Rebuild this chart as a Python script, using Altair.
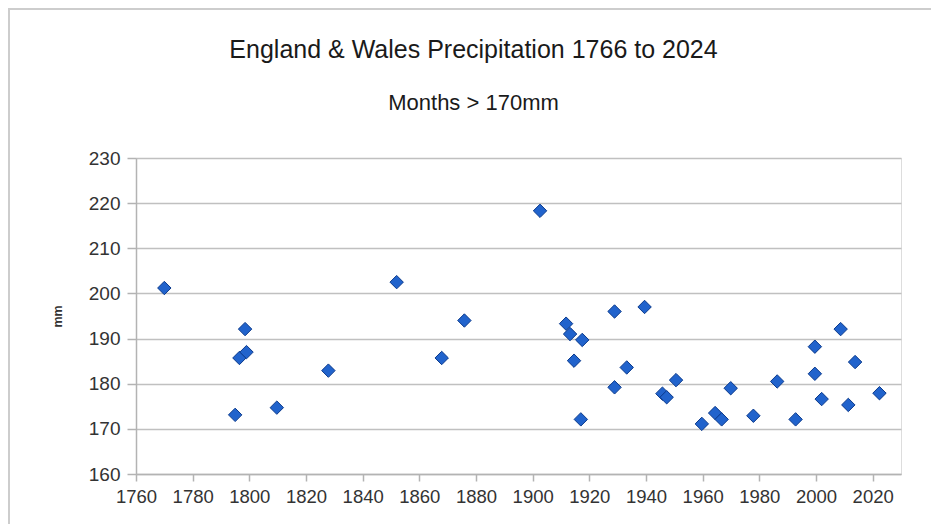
import altair as alt
import pandas as pd

years = [1770, 1795, 1796.5, 1798.5, 1799, 1809.7, 1827.9, 1852, 1867.9, 1875.9,
         1902.6, 1911.8, 1913.2, 1914.6, 1917, 1917.5, 1928.9, 1928.9, 1933.2, 1939.5,
         1945.8, 1947.3, 1950.6, 1959.7, 1964.4, 1966.7, 1969.9, 1977.9, 1986.3, 1992.8,
         1999.6, 1999.6, 2002, 2008.7, 2011.4, 2013.8, 2022.4]
values = [201.2, 173.1, 185.7, 192.1, 187.0, 174.7, 182.9, 202.5, 185.7, 194.0,
          218.3, 193.3, 191.0, 185.1, 172.1, 189.7, 196.0, 179.2, 183.6, 197.0,
          177.8, 177.0, 180.8, 171.1, 173.5, 172.1, 179.0, 172.9, 180.5, 172.1,
          188.2, 182.2, 176.6, 192.1, 175.3, 184.8, 177.9]
x_ticks = list(range(1760, 2021, 20))
y_ticks = list(range(160, 231, 10))

df = pd.DataFrame({"year": years, "mm": values})

W, H = 765, 316
PAD_L, PAD_T = 128, 150

points = alt.Chart(df).mark_point(
    shape="diamond", filled=True, size=180, color="#2163cc",
    stroke="#0b3a8c", strokeWidth=1, opacity=1
).encode(
    x=alt.X("year:Q", scale=alt.Scale(domain=[1760, 2030], nice=False, zero=False),
            axis=alt.Axis(values=x_ticks, format="d", title=None, grid=False,
                          labelFontSize=18.5, labelColor="#333333", labelPadding=6,
                          labelFlush=False, labelOverlap=False,
                          tickSize=7, tickColor="#b3b3b3", tickWidth=1.5,
                          domainColor="#b3b3b3", domainWidth=1.5,
                          labelFont="Liberation Sans")),
    y=alt.Y("mm:Q", scale=alt.Scale(domain=[160, 230], nice=False, zero=False),
            axis=alt.Axis(values=y_ticks, title="mm", titleFontSize=12.5,
                          titleFontWeight="bold", titleColor="#333333",
                          titlePadding=24, titleFont="Liberation Sans",
                          labelFontSize=19, labelColor="#333333", labelPadding=7,
                          labelFlush=False, labelOverlap=False,
                          tickSize=9, tickColor="#b3b3b3", tickWidth=1.5,
                          gridColor="#c0c0c0", gridWidth=1.5,
                          domainColor="#b3b3b3", domainWidth=1.5,
                          labelFont="Liberation Sans")),
)

frame_top = alt.Chart(df).mark_rule(color="#cccccc", strokeWidth=1.5).encode(
    x=alt.value(-PAD_L), x2=alt.value(W + 30), y=alt.value(-PAD_T + 1))
frame_left = alt.Chart(df).mark_rule(color="#cccccc", strokeWidth=1.5).encode(
    x=alt.value(-PAD_L + 1), y=alt.value(-PAD_T), y2=alt.value(H + 50))

chart = alt.layer(frame_top, frame_left, points).properties(
    width=W, height=H,
    autosize=alt.AutoSizeParams(type="none"),
    padding={"left": PAD_L, "top": PAD_T, "right": 30, "bottom": 50},
    title=alt.TitleParams(
        text="England & Wales Precipitation 1766 to 2024",
        subtitle="Months > 170mm",
        font="Liberation Sans", fontSize=25, fontWeight="normal", color="#1a1a1a",
        subtitleFont="Liberation Sans", subtitleFontSize=22, subtitleColor="#1a1a1a",
        subtitlePadding=30.5, anchor="middle", frame="group", dx=-45, offset=-107,
    ),
).configure_view(stroke="#c0c0c0", strokeWidth=1.5).configure(background="white")

chart.save("out.html", embed_options={"renderer": "svg", "actions": False})
